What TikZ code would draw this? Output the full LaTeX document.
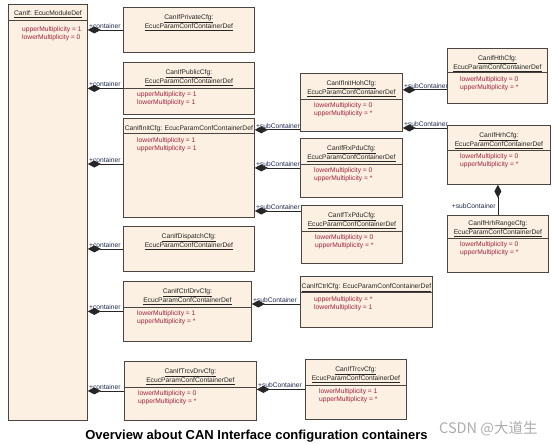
\documentclass[tikz,border=0pt]{standalone}
\usepackage{fontspec}
\setmainfont{Liberation Sans}
\newfontfamily\cjkfont{Noto Sans CJK SC}
\usetikzlibrary{arrows.meta, positioning, calc}
\definecolor{cfgfill}{HTML}{FBF0E1}
\definecolor{cfgborder}{HTML}{4A4540}
\definecolor{cfgattr}{HTML}{A3223F}
\definecolor{cfglabel}{HTML}{1E2B4A}
\definecolor{markgray}{HTML}{ADADAD}
\tikzset{
  cfgbox/.style={draw=cfgborder, fill=cfgfill, line width=0.8pt,
    anchor=north west, inner sep=0pt},
  cfgtitle/.style={anchor=north, inner sep=0pt, align=center,
    font=\fontsize{6.7}{8}\selectfont, text=black!85},
  cfgattrs/.style={anchor=north west, inner sep=0pt, align=left,
    font=\fontsize{6.7}{8}\selectfont, text=cfgattr},
  cfgrule/.style={draw=cfgborder, line width=1pt},
  comp/.style={draw=black!85, line width=0.7pt,
    -{Diamond[length=13pt, width=7pt]}},
  role/.style={anchor=south west, inner sep=1pt,
    font=\fontsize{6.7}{8}\selectfont, text=cfglabel},
}
\newcommand{\cfgsep}[2]{%
  \draw[cfgrule] ([yshift=-#2]#1.north west) -- ([yshift=-#2]#1.north east);%
}

\begin{document}
\begin{tikzpicture}[x=1pt, y=-1pt]
  \path[fill=white, use as bounding box] (0,0) rectangle (554,444);

  % module
  \node[cfgbox, minimum width=79pt, minimum height=416pt] (main) at (8,4) {};
  \node[cfgtitle] at ([yshift=-6.7pt]main.north) {\underline{CanIf: EcucModuleDef}};
  \cfgsep{main}{17pt}
  \node[cfgattrs] at ([xshift=14pt, yshift=-22.7pt]main.north west)
    {upperMultiplicity = 1\\lowerMultiplicity = 0};

  % containers of the module
  \node[cfgbox, minimum width=131pt, minimum height=45pt] (priv) at (123,7) {};
  \node[cfgtitle] at ([yshift=-7pt]priv.north)
    {\underline{CanIfPrivateCfg:}\\\underline{EcucParamConfContainerDef}};

  \node[cfgbox, minimum width=131pt, minimum height=52pt] (pub) at (123,62) {};
  \node[cfgtitle] at ([yshift=-7pt]pub.north)
    {\underline{CanIfPublicCfg:}\\\underline{EcucParamConfContainerDef}};
  \cfgsep{pub}{26pt}
  \node[cfgattrs] at ([xshift=14pt, yshift=-29.7pt]pub.north west)
    {upperMultiplicity = 1\\lowerMultiplicity = 1};

  \node[cfgbox, minimum width=131pt, minimum height=99pt] (init) at (123,118) {};
  \node[cfgtitle] at ([yshift=-7pt]init.north)
    {\underline{CanIfInitCfg: EcucParamConfContainerDef}};
  \cfgsep{init}{15pt}
  \node[cfgattrs] at ([xshift=14pt, yshift=-19.7pt]init.north west)
    {lowerMultiplicity = 1\\upperMultiplicity = 1};

  \node[cfgbox, minimum width=131pt, minimum height=45pt] (disp) at (123,226) {};
  \node[cfgtitle] at ([yshift=-7pt]disp.north)
    {\underline{CanIfDispatchCfg:}\\\underline{EcucParamConfContainerDef}};

  \node[cfgbox, minimum width=128pt, minimum height=60pt] (ctrldrv) at (123,281) {};
  \node[cfgtitle] at ([yshift=-7pt]ctrldrv.north)
    {\underline{CanIfCtrlDrvCfg:}\\\underline{EcucParamConfContainerDef}};
  \cfgsep{ctrldrv}{26pt}
  \node[cfgattrs] at ([xshift=14pt, yshift=-29.7pt]ctrldrv.north west)
    {lowerMultiplicity = 1\\upperMultiplicity = *};

  \node[cfgbox, minimum width=132pt, minimum height=59pt] (trcvdrv) at (124,361) {};
  \node[cfgtitle] at ([yshift=-7pt]trcvdrv.north)
    {\underline{CanIfTrcvDrvCfg:}\\\underline{EcucParamConfContainerDef}};
  \cfgsep{trcvdrv}{26pt}
  \node[cfgattrs] at ([xshift=14pt, yshift=-29.7pt]trcvdrv.north west)
    {lowerMultiplicity = 0\\upperMultiplicity = *};

  % sub containers
  \node[cfgbox, minimum width=102pt, minimum height=58pt] (inithoh) at (300,73) {};
  \node[cfgtitle] at ([yshift=-7pt]inithoh.north)
    {\underline{CanIfInitHohCfg:}\\\underline{EcucParamConfContainerDef}};
  \cfgsep{inithoh}{26pt}
  \node[cfgattrs] at ([xshift=14pt, yshift=-29.7pt]inithoh.north west)
    {lowerMultiplicity = 0\\upperMultiplicity = *};

  \node[cfgbox, minimum width=102pt, minimum height=59pt] (rxpdu) at (300,138) {};
  \node[cfgtitle] at ([yshift=-7pt]rxpdu.north)
    {\underline{CanIfRxPduCfg:}\\\underline{EcucParamConfContainerDef}};
  \cfgsep{rxpdu}{26pt}
  \node[cfgattrs] at ([xshift=14pt, yshift=-29.7pt]rxpdu.north west)
    {lowerMultiplicity = 0\\upperMultiplicity = *};

  \node[cfgbox, minimum width=101pt, minimum height=58pt] (txpdu) at (301,205) {};
  \node[cfgtitle] at ([yshift=-7pt]txpdu.north)
    {\underline{CanIfTxPduCfg:}\\\underline{EcucParamConfContainerDef}};
  \cfgsep{txpdu}{26pt}
  \node[cfgattrs] at ([xshift=14pt, yshift=-29.7pt]txpdu.north west)
    {lowerMultiplicity = 0\\upperMultiplicity = *};

  \node[cfgbox, minimum width=132pt, minimum height=51pt] (ctrlcfg) at (300,276) {};
  \node[cfgtitle] at ([yshift=-7pt]ctrlcfg.north)
    {\underline{CanIfCtrlCfg: EcucParamConfContainerDef}};
  \cfgsep{ctrlcfg}{16pt}
  \node[cfgattrs] at ([xshift=14pt, yshift=-20.7pt]ctrlcfg.north west)
    {upperMultiplicity = *\\lowerMultiplicity = 1};

  \node[cfgbox, minimum width=101pt, minimum height=60pt] (trcvcfg) at (305,359) {};
  \node[cfgtitle] at ([yshift=-7pt]trcvcfg.north)
    {\underline{CanIfTrcvCfg:}\\\underline{EcucParamConfContainerDef}};
  \cfgsep{trcvcfg}{26pt}
  \node[cfgattrs] at ([xshift=14pt, yshift=-29.7pt]trcvcfg.north west)
    {lowerMultiplicity = 1\\upperMultiplicity = *};

  \node[cfgbox, minimum width=100pt, minimum height=55pt] (hth) at (447,48) {};
  \node[cfgtitle] at ([yshift=-7pt]hth.north)
    {\underline{CanIfHthCfg:}\\\underline{EcucParamConfContainerDef}};
  \cfgsep{hth}{25pt}
  \node[cfgattrs] at ([xshift=13pt, yshift=-28.7pt]hth.north west)
    {lowerMultiplicity = 0\\upperMultiplicity = *};

  \node[cfgbox, minimum width=103pt, minimum height=59pt] (hrh) at (447,125) {};
  \node[cfgtitle] at ([yshift=-7pt]hrh.north)
    {\underline{CanIfHrhCfg:}\\\underline{EcucParamConfContainerDef}};
  \cfgsep{hrh}{25pt}
  \node[cfgattrs] at ([xshift=13pt, yshift=-28.7pt]hrh.north west)
    {lowerMultiplicity = 0\\upperMultiplicity = *};

  \node[cfgbox, minimum width=101pt, minimum height=57pt] (hrhrange) at (447,215) {};
  \node[cfgtitle] at ([yshift=-5pt]hrhrange.north)
    {\underline{CanIfHrhRangeCfg:}\\\underline{EcucParamConfContainerDef}};
  \cfgsep{hrhrange}{23pt}
  \node[cfgattrs] at ([xshift=13pt, yshift=-26.7pt]hrhrange.north west)
    {lowerMultiplicity = 0\\upperMultiplicity = *};

  % link points
  \coordinate (initlink) at ([yshift=-46pt]init.north west);
  \coordinate (hohlink) at ([yshift=2pt]inithoh.south west);
  \coordinate (txlink) at ([yshift=-6pt]txpdu.north west);
  \coordinate (hthlink) at ([yshift=14pt]hth.south west);
  \coordinate (hrhlink) at ([yshift=-3pt]hrh.north west);
  \coordinate (ctrllink) at ([yshift=-28pt]ctrlcfg.north west);

  % compositions
  \draw[comp] (priv.west) -- (priv.west -| main.east) node[role] {+container};
  \draw[comp] (pub.west) -- (pub.west -| main.east) node[role] {+container};
  \draw[comp] (initlink) -- (initlink -| main.east) node[role] {+container};
  \draw[comp] (disp.west) -- (disp.west -| main.east) node[role] {+container};
  \draw[comp] (ctrldrv.west) -- (ctrldrv.west -| main.east) node[role] {+container};
  \draw[comp] (trcvdrv.west) -- (trcvdrv.west -| main.east) node[role] {+container};

  \draw[comp] (hohlink) -- (hohlink -| init.east) node[role] {+subContainer};
  \draw[comp] (rxpdu.west) -- (rxpdu.west -| init.east) node[role] {+subContainer};
  \draw[comp] (txlink) -- (txlink -| init.east) node[role] {+subContainer};
  \draw[comp] (hthlink) -- (hthlink -| inithoh.east) node[role] {+subContainer};
  \draw[comp] (hrhlink) -- (hrhlink -| inithoh.east) node[role] {+subContainer};
  \draw[comp] (ctrllink) -- (ctrllink -| ctrldrv.east) node[role] {+subContainer};
  \draw[comp] (trcvcfg.west) -- (trcvcfg.west -| trcvdrv.east) node[role] {+subContainer};
  \draw[comp] (hrhrange.north) -- (hrhrange.north |- hrh.south);
  \node[role, anchor=south east] at ([xshift=-1pt, yshift=5pt]hrhrange.north) {+subContainer};

  % caption
  \node[anchor=base, inner sep=0pt, font=\bfseries\fontsize{13}{15}\selectfont]
    (caption) at (256.5,439) {Overview about CAN Interface configuration containers};
  \node[anchor=base west, inner sep=0pt, text=markgray,
    font=\cjkfont\fontsize{14.5}{16}\selectfont]
    (mark) at (439,433) {CSDN @大道生};
\end{tikzpicture}
\end{document}
